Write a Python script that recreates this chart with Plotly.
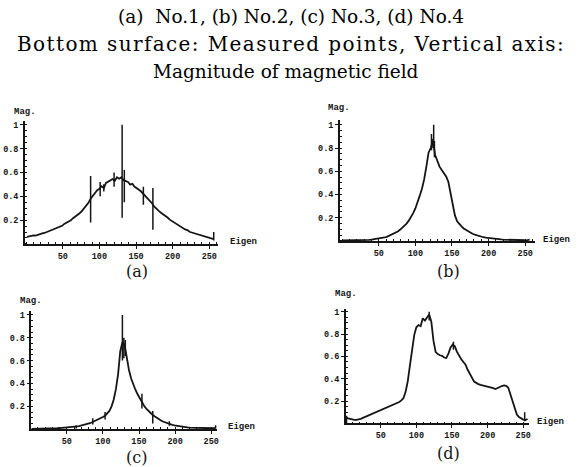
import plotly.graph_objects as go

W, H = 581, 467

# ---------------- data ----------------
x_grid = list(range(1, 257, 3))

mag_a = [0.060, 0.066, 0.068, 0.072, 0.070, 0.078, 0.080, 0.088, 0.092, 0.100,
         0.106, 0.112, 0.120, 0.128, 0.138, 0.146, 0.152, 0.168, 0.176, 0.190,
         0.198, 0.216, 0.228, 0.246, 0.258, 0.276, 0.300, 0.318, 0.345, 0.380,
         0.410, 0.428, 0.452, 0.462, 0.485, 0.470, 0.512, 0.525, 0.536, 0.545,
         0.530, 0.560, 0.548, 0.560, 0.535, 0.528, 0.520, 0.498, 0.505, 0.480,
         0.470, 0.455, 0.440, 0.420, 0.402, 0.380, 0.360, 0.340, 0.312, 0.292,
         0.278, 0.262, 0.250, 0.232, 0.222, 0.204, 0.192, 0.180, 0.168, 0.152,
         0.146, 0.132, 0.122, 0.116, 0.102, 0.096, 0.090, 0.082, 0.076, 0.070,
         0.066, 0.060, 0.056, 0.050, 0.046, 0.040]

mag_b = [0.004, 0.004, 0.005, 0.004, 0.005, 0.005, 0.006, 0.006, 0.007, 0.007,
         0.008, 0.009, 0.010, 0.012, 0.014, 0.016, 0.020, 0.022, 0.026, 0.030,
         0.036, 0.044, 0.052, 0.060, 0.070, 0.082, 0.096, 0.112, 0.130, 0.150,
         0.175, 0.205, 0.240, 0.280, 0.330, 0.390, 0.450, 0.530, 0.640, 0.760,
         0.800, 0.860, 0.740, 0.680, 0.640, 0.610, 0.585, 0.555, 0.510, 0.420,
         0.320, 0.220, 0.170, 0.145, 0.125, 0.108, 0.095, 0.082, 0.072, 0.062,
         0.055, 0.048, 0.042, 0.036, 0.032, 0.028, 0.025, 0.022, 0.020, 0.018,
         0.016, 0.014, 0.013, 0.012, 0.011, 0.010, 0.009, 0.009, 0.008, 0.008,
         0.007, 0.007, 0.006, 0.006, 0.008, 0.012]

mag_c = [0.003, 0.003, 0.003, 0.004, 0.004, 0.004, 0.005, 0.005, 0.006, 0.006,
         0.007, 0.008, 0.009, 0.010, 0.011, 0.012, 0.014, 0.015, 0.017, 0.019,
         0.021, 0.024, 0.027, 0.031, 0.035, 0.040, 0.046, 0.052, 0.060, 0.068,
         0.076, 0.085, 0.095, 0.106, 0.118, 0.135, 0.160, 0.200, 0.260, 0.350,
         0.480, 0.680, 0.760, 0.740, 0.620, 0.520, 0.445, 0.390, 0.345, 0.305,
         0.270, 0.235, 0.205, 0.180, 0.160, 0.140, 0.124, 0.110, 0.096, 0.084,
         0.074, 0.065, 0.057, 0.050, 0.044, 0.038, 0.033, 0.029, 0.025, 0.022,
         0.019, 0.017, 0.015, 0.013, 0.012, 0.011, 0.010, 0.009, 0.008, 0.008,
         0.007, 0.007, 0.006, 0.006, 0.008, 0.010]

mag_d = [0.050, 0.046, 0.040, 0.034, 0.032, 0.033, 0.036, 0.042, 0.050, 0.058,
         0.066, 0.074, 0.085, 0.092, 0.100, 0.110, 0.118, 0.126, 0.136, 0.142,
         0.150, 0.158, 0.166, 0.172, 0.180, 0.192, 0.206, 0.228, 0.285, 0.380,
         0.520, 0.680, 0.790, 0.860, 0.880, 0.870, 0.940, 0.920, 0.950, 0.975,
         0.910, 0.740, 0.640, 0.620, 0.610, 0.605, 0.590, 0.585, 0.625, 0.680,
         0.705, 0.690, 0.640, 0.605, 0.575, 0.550, 0.525, 0.480, 0.450, 0.410,
         0.375, 0.360, 0.352, 0.345, 0.340, 0.338, 0.332, 0.330, 0.322, 0.316,
         0.308, 0.318, 0.325, 0.335, 0.340, 0.336, 0.320, 0.260, 0.190, 0.130,
         0.080, 0.058, 0.045, 0.035, 0.030, 0.040]

# spikes: position, low, high
spike_a_x = [88, 101, 106, 120, 131, 134, 160, 173, 256]
spike_a_lo = [0.18, 0.40, 0.44, 0.48, 0.22, 0.35, 0.33, 0.12, 0.03]
spike_a_hi = [0.57, 0.52, 0.50, 0.60, 1.00, 0.62, 0.48, 0.47, 0.10]

spike_b_x = [122, 124, 125, 126]
spike_b_lo = [0.78, 0.80, 0.82, 0.72]
spike_b_hi = [0.92, 0.88, 1.00, 0.86]

spike_c_x = [63, 86, 103, 127, 129, 131, 154, 169, 192, 256]
spike_c_lo = [0.005, 0.04, 0.085, 0.60, 0.62, 0.64, 0.18, 0.05, 0.03, 0.005]
spike_c_hi = [0.035, 0.095, 0.15, 1.00, 0.80, 0.78, 0.31, 0.16, 0.07, 0.035]

spike_d_x = [2, 118, 152, 252]
spike_d_lo = [0.00, 0.92, 0.66, 0.02]
spike_d_hi = [0.07, 1.00, 0.73, 0.10]

x_tickvals = [50, 100, 150, 200, 250]
x_ticktext = ["50", "100", "150", "200", "250"]
y_tickvals = [0.2, 0.4, 0.6, 0.8, 1.0]
y_ticktext = ["0.2", "0.4", "0.6", "0.8", "1"]

title_line1 = "(a)  No.1, (b) No.2, (c) No.3, (d) No.4"
title_line2 = "Bottom surface: Measured points, Vertical axis:"
title_line3 = "Magnitude of magnetic field"
panel_labels = ["(a)", "(b)", "(c)", "(d)"]

# ---------------- layout geometry (pixels) ----------------
panels = [
    dict(xd=(25, 219), xr=(-1.7, 262.2), yd=(243, 120), yr=(0, 1.0276),
         mag=(25, 110), eig=(229, 241), lab=(137, 271)),
    dict(xd=(341, 537), xr=(-3.1, 263.5), yd=(240, 119), yr=(0, 1.037),
         mag=(340, 106), eig=(543, 239), lab=(450, 271)),
    dict(xd=(31.5, 218), xr=(1.0, 258.3), yd=(429, 310), yr=(0, 1.037),
         mag=(31, 300), eig=(227, 427), lab=(137, 457)),
    dict(xd=(347, 531), xr=(1.0, 258.3), yd=(423.3, 308.5), yr=(0, 1.022),
         mag=(347, 293), eig=(537, 422), lab=(450, 453)),
]

series = [mag_a, mag_b, mag_c, mag_d]
spikes = [(spike_a_x, spike_a_lo, spike_a_hi), (spike_b_x, spike_b_lo, spike_b_hi),
          (spike_c_x, spike_c_lo, spike_c_hi), (spike_d_x, spike_d_lo, spike_d_hi)]

def px(x):
    return x / W

def py(y):
    return 1 - y / H

fig = go.Figure()
annotations = []
INK = "#151515"
tickfont = dict(family="Liberation Mono", size=8.5, color=INK, weight="bold")

for i, p in enumerate(panels):
    n = "" if i == 0 else str(i + 1)
    xa, ya = "x" + n, "y" + n
    fig.add_trace(go.Scatter(x=x_grid, y=series[i], mode="lines",
                             line=dict(color=INK, width=1.8),
                             xaxis=xa, yaxis=ya, showlegend=False, hoverinfo="skip"))
    sx, slo, shi = spikes[i]
    xs, ys = [], []
    for xv, lo, hi in zip(sx, slo, shi):
        xs += [xv, xv, None]
        ys += [lo, hi, None]
    fig.add_trace(go.Scatter(x=xs, y=ys, mode="lines",
                             line=dict(color=INK, width=1.5),
                             xaxis=xa, yaxis=ya, showlegend=False, hoverinfo="skip"))
    common = dict(showgrid=False, zeroline=False, showline=True, linecolor=INK,
                  linewidth=1.5, ticks="outside", ticklen=3, tickwidth=1,
                  tickcolor=INK, tickfont=tickfont, fixedrange=True)
    fig.layout["xaxis" + n] = dict(
        domain=[px(p["xd"][0]), px(p["xd"][1])], range=list(p["xr"]),
        anchor=ya, tickvals=x_tickvals, ticktext=x_ticktext,
        minor=dict(dtick=10, tick0=0, ticks="inside", ticklen=2, tickcolor=INK),
        **common)
    fig.layout["yaxis" + n] = dict(
        domain=[py(p["yd"][0]), py(p["yd"][1])], range=list(p["yr"]),
        anchor=xa, tickvals=y_tickvals, ticktext=y_ticktext,
        minor=dict(dtick=0.05, tick0=0, ticks="inside", ticklen=2, tickcolor=INK),
        **common)
    annotations.append(dict(text="Mag.", x=px(p["mag"][0]), y=py(p["mag"][1]),
                            xref="paper", yref="paper", showarrow=False,
                            xanchor="center", yanchor="middle",
                            font=dict(family="Liberation Mono", size=9, color=INK, weight="bold")))
    annotations.append(dict(text="Eigen", x=px(p["eig"][0]), y=py(p["eig"][1]),
                            xref="paper", yref="paper", showarrow=False,
                            xanchor="left", yanchor="middle",
                            font=dict(family="Liberation Mono", size=9, color=INK, weight="bold")))
    annotations.append(dict(text=panel_labels[i], x=px(p["lab"][0]), y=py(p["lab"][1]),
                            xref="paper", yref="paper", showarrow=False,
                            xanchor="center", yanchor="middle",
                            font=dict(family="DejaVu Serif", size=16, color=INK)))

for text, xc, yc, size, ls in [(title_line1, 292, 15, 18.5, 0), (title_line2, 292, 42, 20, 1.4),
                               (title_line3, 287, 70, 18.5, 0)]:
    label = text if ls == 0 else '<span style="letter-spacing:%spx">%s</span>' % (ls, text)
    annotations.append(dict(text=label, x=px(xc), y=py(yc), xref="paper", yref="paper",
                            showarrow=False, xanchor="center", yanchor="middle",
                            font=dict(family="DejaVu Serif", size=size, color="#000")))

fig.update_layout(width=W, height=H, margin=dict(l=0, r=0, t=0, b=0),
                  paper_bgcolor="white", plot_bgcolor="white",
                  annotations=annotations)

fig.write_html("out.html")
